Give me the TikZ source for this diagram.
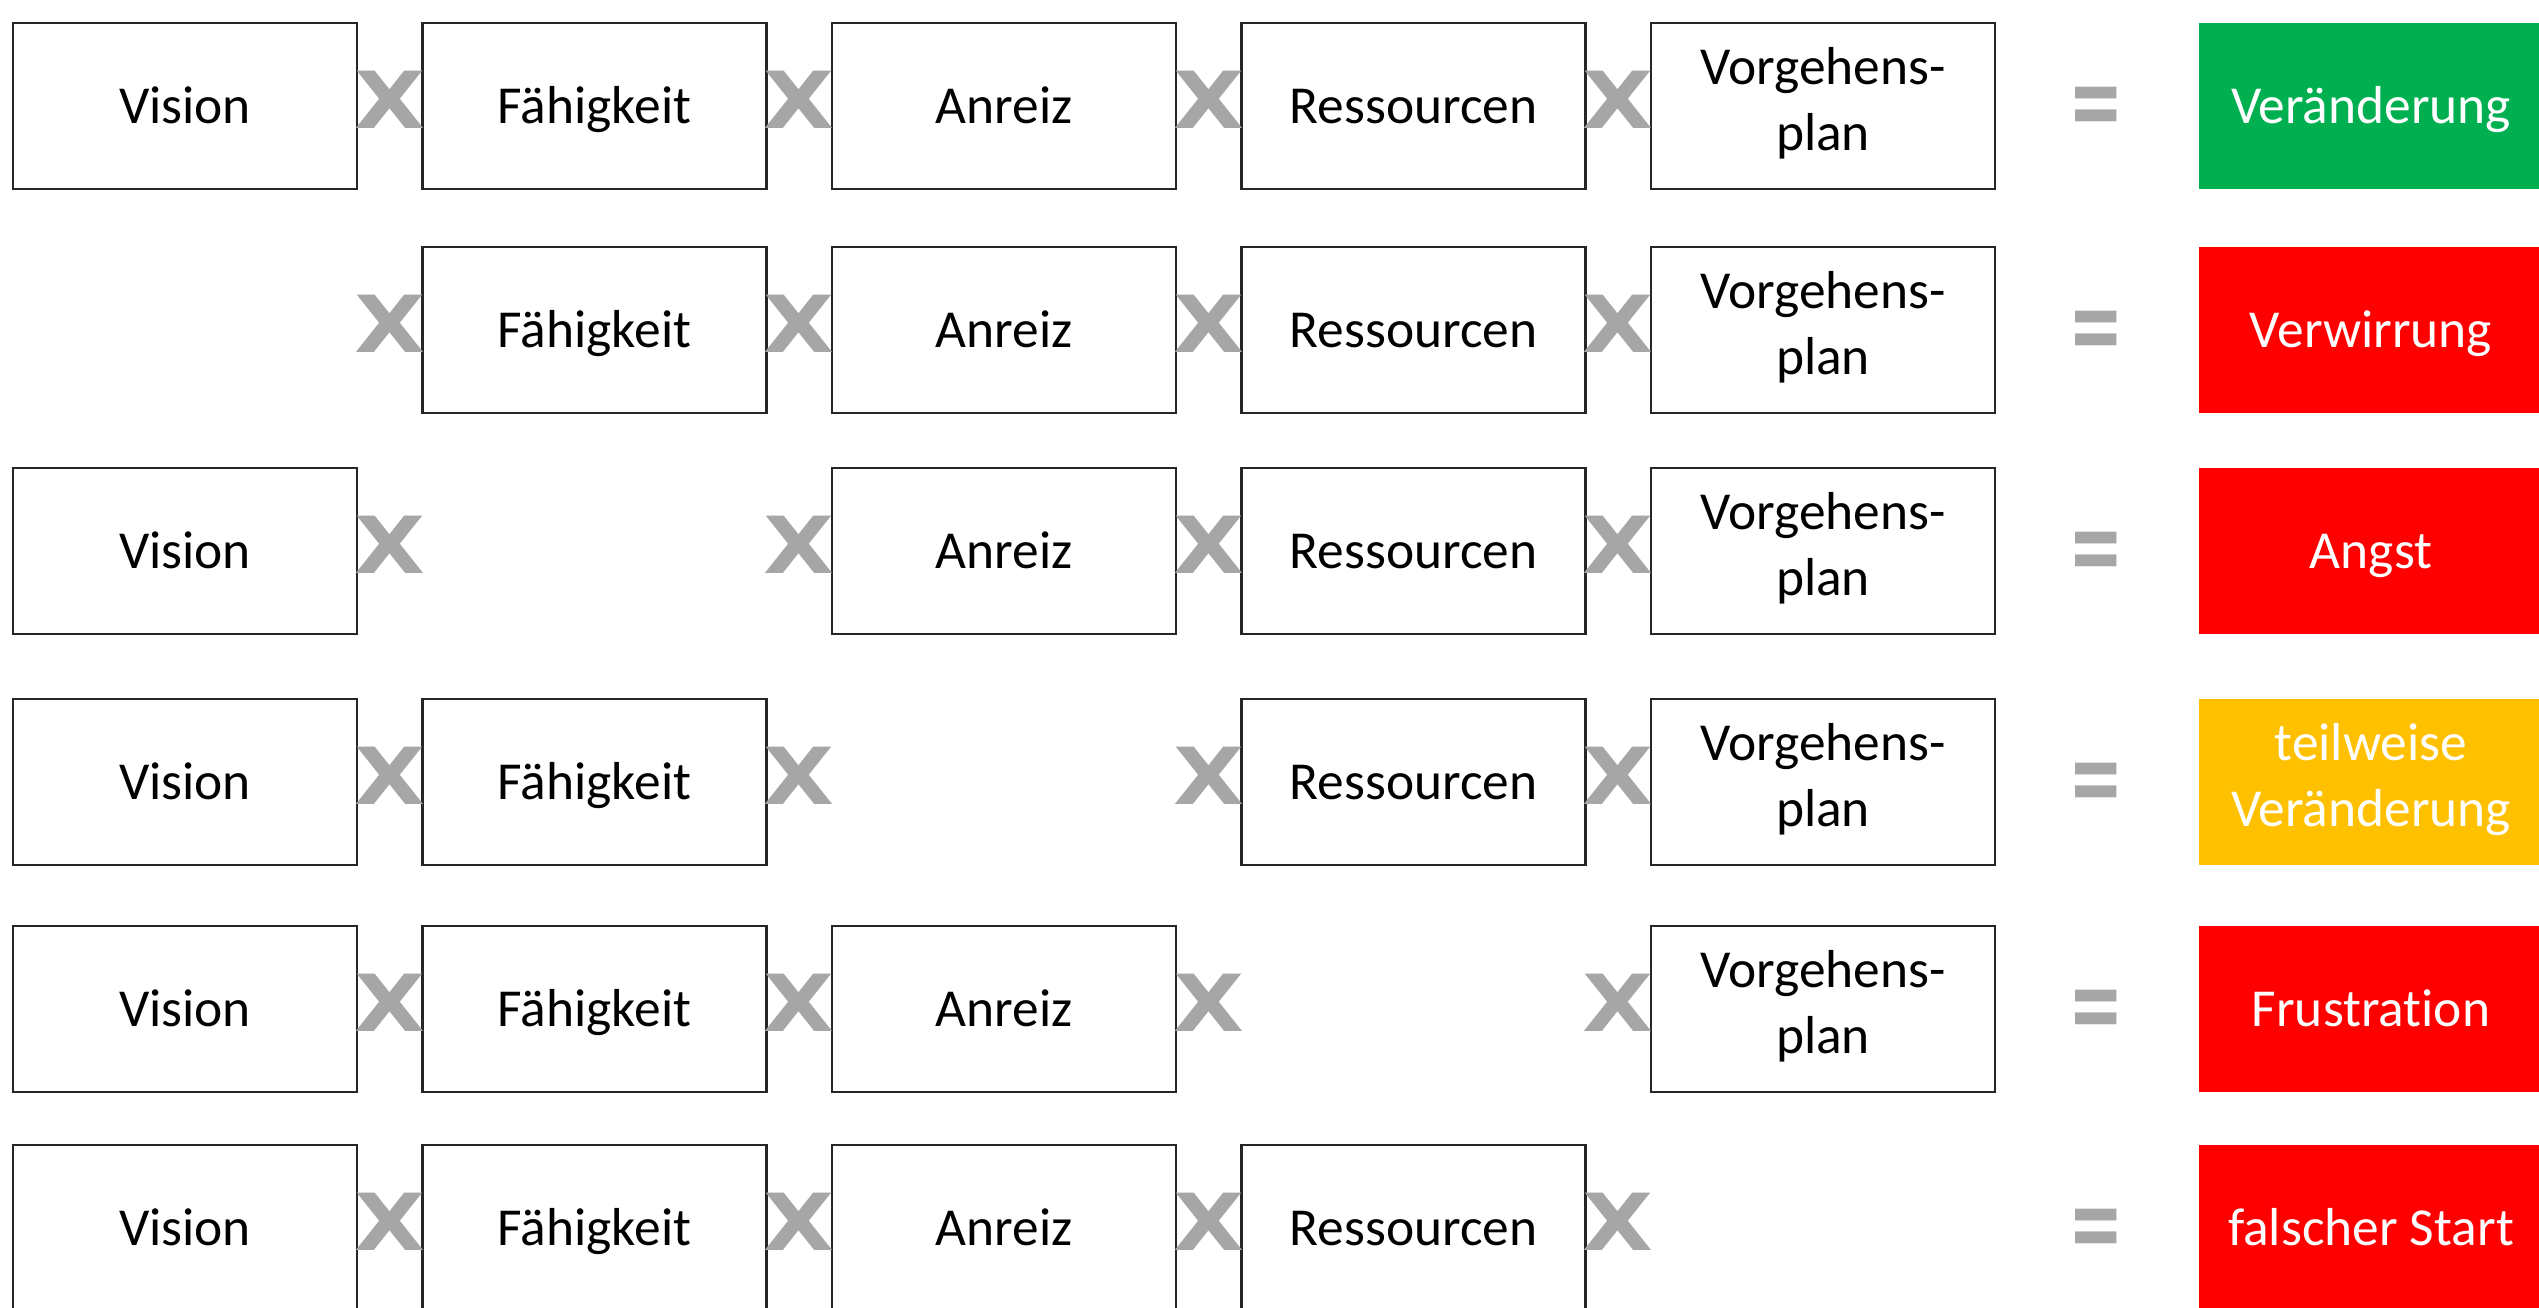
\documentclass[tikz,border=0pt]{standalone}
\usepackage{fontspec}
\setmainfont{Carlito}[Ligatures=NoCommon]
\newfontfamily\signfont{DejaVu Sans}
\usetikzlibrary{positioning}
\definecolor{color_sign}{RGB}{166,166,166}
\definecolor{color_frame}{RGB}{38,38,38}
\definecolor{color_good}{RGB}{0,176,80}
\definecolor{color_bad}{RGB}{255,0,0}
\definecolor{color_part}{RGB}{255,192,0}
\newcommand{\tstrut}{\rule[-4.1pt]{0pt}{18pt}}

\begin{document}
\begin{tikzpicture}[
    every node/.style={font=\fontsize{15.2}{18.6}\selectfont},
    factor/.style={draw=color_frame,line width=0.6pt,minimum width=3.44cm,minimum height=1.66cm,inner sep=0pt,align=center,
        execute at begin node=\tstrut,execute at end node=\tstrut},
    result/.style={fill=#1,text=white,minimum width=3.44cm,minimum height=1.66cm,inner sep=0pt,align=center,
        execute at begin node=\tstrut,execute at end node=\tstrut},
    sign/.style={text=color_sign,font=\signfont\bfseries\fontsize{22.4}{24}\selectfont,inner sep=0pt}
]
    % whole picture is 25.39 x 13.07
    \useasboundingbox (0,0) rectangle (25.39,-13.07);

    \def\xoffset{1.85}
    \def\dx{4.095}
    \def\xeq{20.965}
    \def\xres{23.71}

    % row / height / missing factor / result / colour
    \foreach \r/\y/\m/\res/\col in {
        1/-1.06/0/Veränderung/color_good,
        2/-3.30/1/Verwirrung/color_bad,
        3/-5.51/2/Angst/color_bad,
        4/-7.82/3/{teilweise\\Veränderung}/color_part,
        5/-10.09/4/Frustration/color_bad,
        6/-12.28/5/falscher Start/color_bad%
    }{
        \foreach \c/\L in {1/Vision, 2/Fähigkeit, 3/Anreiz, 4/Ressourcen, 5/{Vorgehens-\\plan}}{
            \ifnum\c=\m\else
                \node[factor] (f-\r-\c) at (\xoffset+\c*\dx-\dx,\y) {\L};
            \fi
        }
        \foreach \c in {1,...,4}{
            \node[sign] (x-\r-\c) at (\xoffset+\c*\dx-0.5*\dx,\y+0.06) {\scalebox{1.17}[1]{X}};
        }
        \node[sign] (eq-\r) at (\xeq,\y-0.06) {\scalebox{0.84}[1.3]{=}};
        \node[result=\col] (res-\r) at (\xres,\y) {\res};
    }

\end{tikzpicture}
\end{document}
